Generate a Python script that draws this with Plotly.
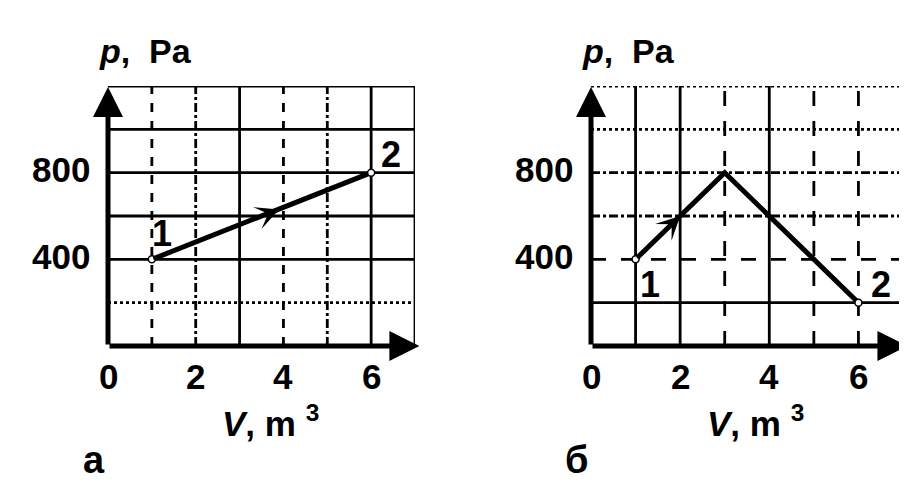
import plotly.graph_objects as go

# ---- data ----
V_a = [1, 6]
p_a = [400, 800]
V_b = [1, 3, 6]
p_b = [400, 800, 200]
point_labels_a = ["1", "2"]
point_labels_b = ["1", "2"]
label_pos_a_V = [1.22, 6.45]
label_pos_a_p = [517, 882]
label_pos_b_V = [1.33, 6.5]
label_pos_b_p = [286, 286]
arrow_a_tip = (3.9, 630)
arrow_b_tip = (2.0, 600)
x_tick_vals = [0, 2, 4, 6]
x_tick_text = ["0", "2", "4", "6"]
y_tick_vals = [400, 800]
y_tick_text = ["400", "800"]
grid_V = [1, 2, 3, 4, 5, 6, 7]
grid_p = [200, 400, 600, 800, 1000, 1200]
V_range = [0, 7]
p_range = [0, 1200]
axis_arrow_V = 7.1
axis_arrow_p = 1195

# ---- styles ----
grid_V_dash_a = ["dash", "dashdot", "solid", "dash", "dashdot", "solid", "solid"]
grid_p_dash_a = ["dot", "solid", "solid", "solid", "solid", "solid"]
grid_V_dash_b = ["solid", "solid", "longdash", "solid", "longdash", "longdash", "solid"]
grid_p_dash_b = ["solid", "longdash", "dashdot", "dashdot", "dot", "dot"]

FONT = "Liberation Sans, Arial, Helvetica, sans-serif"
W, H = 907, 489

fig = go.Figure()

panels = [
    dict(xa="x", ya="y", V=V_a, p=p_a, vd=grid_V_dash_a, pd=grid_p_dash_a,
         labels=point_labels_a, lV=label_pos_a_V, lp=label_pos_a_p, tip=arrow_a_tip,
         letter="a", letter_shift=-14),
    dict(xa="x2", ya="y2", V=V_b, p=p_b, vd=grid_V_dash_b, pd=grid_p_dash_b,
         labels=point_labels_b, lV=label_pos_b_V, lp=label_pos_b_p, tip=arrow_b_tip,
         letter="б", letter_shift=-15),
]

for P in panels:
    xa, ya = P["xa"], P["ya"]
    # grid
    for v, d in zip(grid_V, P["vd"]):
        fig.add_shape(type="line", xref=xa, yref=ya, x0=v, x1=v, y0=p_range[0], y1=p_range[1],
                      line=dict(color="black", width=2.8, dash=d), layer="below")
    for pv, d in zip(grid_p, P["pd"]):
        fig.add_shape(type="line", xref=xa, yref=ya, x0=V_range[0], x1=V_range[1], y0=pv, y1=pv,
                      line=dict(color="black", width=2.8, dash=d), layer="below")
    # data line
    fig.add_trace(go.Scatter(x=P["V"], y=P["p"], xaxis=xa, yaxis=ya, mode="lines",
                             line=dict(color="black", width=5), hoverinfo="skip", showlegend=False))
    fig.add_trace(go.Scatter(x=[P["V"][0], P["V"][-1]], y=[P["p"][0], P["p"][-1]], xaxis=xa, yaxis=ya,
                             mode="markers",
                             marker=dict(size=7, color="white", line=dict(color="black", width=1.5)),
                             hoverinfo="skip", showlegend=False))
    # direction arrow on the process line
    fig.add_annotation(x=P["tip"][0], y=P["tip"][1], ax=P["V"][0], ay=P["p"][0],
                       xref=xa, yref=ya, axref=xa, ayref=ya, text="", showarrow=True,
                       arrowhead=3, arrowsize=1.3, arrowwidth=3, arrowcolor="black")
    # axes with arrows
    fig.add_annotation(x=0, y=axis_arrow_p, ax=0, ay=0, xref=xa, yref=ya, axref=xa, ayref=ya,
                       text="", showarrow=True, arrowhead=2, arrowsize=1.2, arrowwidth=5,
                       arrowcolor="black")
    fig.add_annotation(x=axis_arrow_V, y=0, ax=0, ay=0, xref=xa, yref=ya, axref=xa, ayref=ya,
                       text="", showarrow=True, arrowhead=2, arrowsize=1.2, arrowwidth=5,
                       arrowcolor="black")
    # tick labels
    for v, t in zip(x_tick_vals, x_tick_text):
        fig.add_annotation(x=v, y=0, xref=xa, yref=ya, text=t, showarrow=False,
                           xanchor="center", yanchor="middle", yshift=-30,
                           font=dict(family=FONT, size=35, color="black", weight="bold"))
    for v, t in zip(y_tick_vals, y_tick_text):
        fig.add_annotation(x=0, y=v, xref=xa, yref=ya, text=t, showarrow=False,
                           xanchor="right", yanchor="middle", xshift=-16, yshift=3,
                           font=dict(family=FONT, size=35, color="black", weight="bold"))
    # point labels
    for t, lv, lp in zip(P["labels"], P["lV"], P["lp"]):
        fig.add_annotation(x=lv, y=lp, xref=xa, yref=ya, text=t, showarrow=False,
                           xanchor="center", yanchor="middle",
                           font=dict(family=FONT, size=36, color="black", weight="bold"))
    # axis titles
    fig.add_annotation(x=0, y=p_range[1], xref=xa, yref=ya, text="<i>p</i>,  Pa", showarrow=False,
                       xanchor="left", yanchor="middle", xshift=-11, yshift=35,
                       font=dict(family=FONT, size=34, color="black", weight="bold"))
    fig.add_annotation(x=3.7, y=0, xref=xa, yref=ya, text="<i>V</i>, m <sup>3</sup>", showarrow=False,
                       xanchor="center", yanchor="middle", yshift=-75,
                       font=dict(family=FONT, size=35, color="black", weight="bold"))
    # panel letter
    fig.add_annotation(x=0, y=0, xref=xa, yref=ya, text=P["letter"], showarrow=False,
                       xanchor="center", yanchor="middle", xshift=P["letter_shift"], yshift=-114,
                       font=dict(family=FONT, size=38, color="black", weight="bold"))

ax_common = dict(visible=False, showgrid=False, zeroline=False, fixedrange=True)
fig.update_layout(
    width=W, height=H,
    margin=dict(l=0, r=0, t=0, b=0),
    paper_bgcolor="white", plot_bgcolor="rgba(0,0,0,0)",
    showlegend=False,
    xaxis=dict(domain=[100 / W, 407 / W], range=V_range, anchor="y", **ax_common),
    yaxis=dict(domain=[1 - 338 / H, 1 - 78 / H], range=p_range, anchor="x", **ax_common),
    xaxis2=dict(domain=[583 / W, 895 / W], range=V_range, anchor="y2", **ax_common),
    yaxis2=dict(domain=[1 - 338 / H, 1 - 78 / H], range=p_range, anchor="x2", **ax_common),
)

fig.write_html("out.html")
